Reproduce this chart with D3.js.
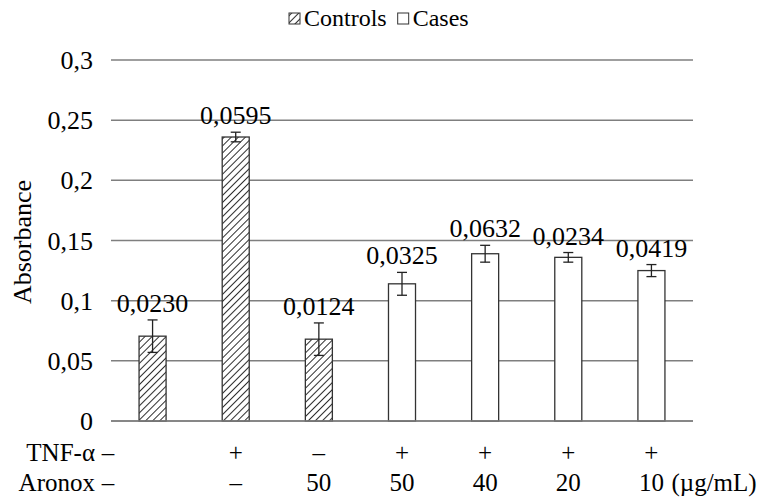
<html>
<head>
<meta charset="utf-8">
<script src="https://d3js.org/d3.v7.min.js"></script>
<style>
  body { margin: 0; background: #fff; }
</style>
</head>
<body>
<script>
  // data
  const groups = ["Controls", "Controls", "Controls", "Cases", "Cases", "Cases", "Cases"];
  const values = [0.0705, 0.236, 0.068, 0.114, 0.139, 0.136, 0.125];
  const errors = [0.0135, 0.004, 0.0135, 0.0095, 0.007, 0.004, 0.005];
  const labels = ["0,0230", "0,0595", "0,0124", "0,0325", "0,0632", "0,0234", "0,0419"];
  const tnf = ["\u2013", "+", "\u2013", "+", "+", "+", "+"];
  const aronox = ["\u2013", "\u2013", "50", "50", "40", "20", "10"];
  const yTicks = [0, 0.05, 0.1, 0.15, 0.2, 0.25, 0.3];

  const w = 764, h = 501;
  const plotLeft = 111, plotRight = 693, plotTop = 60, plotBottom = 421;
  const fs = 26;

  const svg = d3.select("body").append("svg")
      .attr("width", w)
      .attr("height", h);

  // every label uses the Times-like serif
  const txt = sel => sel.append("text").style("font-family", "'Liberation Serif'").attr("fill", "#000");

  const defs = svg.append("defs");
  const pat = defs.append("pattern")
      .attr("id", "hatch")
      .attr("patternUnits", "userSpaceOnUse")
      .attr("width", 5)
      .attr("height", 5)
      .attr("patternTransform", "rotate(45)");
  pat.append("rect").attr("width", 5).attr("height", 5).attr("fill", "#fff");
  pat.append("line")
      .attr("x1", 0).attr("y1", 0).attr("x2", 0).attr("y2", 5)
      .attr("stroke", "#222").attr("stroke-width", 1.9);

  const x = d3.scaleBand()
      .domain(d3.range(values.length))
      .range([plotLeft, plotRight])
      .paddingInner(0.675)
      .paddingOuter(0.3375);

  const y = d3.scaleLinear().domain([0, 0.3]).range([plotBottom, plotTop]);

  // gridlines
  svg.append("g").selectAll("line")
    .data(yTicks)
    .join("line")
      .attr("x1", plotLeft).attr("x2", plotRight)
      .attr("y1", d => y(d)).attr("y2", d => y(d))
      .attr("stroke", "#7f7f7f")
      .attr("stroke-width", 1.5);

  // y tick labels
  const yl = svg.append("g");
  yTicks.forEach(d => {
    txt(yl)
      .attr("x", 93)
      .attr("y", y(d))
      .attr("dy", "0.35em")
      .attr("text-anchor", "end")
      .attr("font-size", fs)
      .text(String(d).replace(".", ","));
  });

  // y axis title
  txt(svg)
      .attr("transform", "translate(31,242) rotate(-90)")
      .attr("text-anchor", "middle")
      .attr("font-size", fs)
      .text("Absorbance");

  // bars
  svg.append("g").selectAll("rect")
    .data(values)
    .join("rect")
      .attr("x", (d, i) => x(i))
      .attr("y", d => y(d))
      .attr("width", x.bandwidth())
      .attr("height", d => y(0) - y(d))
      .attr("fill", (d, i) => groups[i] == "Controls" ? "url(#hatch)" : "#fff")
      .attr("stroke", "#333")
      .attr("stroke-width", 1.3);

  // error bars
  const eb = svg.append("g").attr("stroke", "#222").attr("stroke-width", 1.3);
  values.forEach((v, i) => {
    const cx = x(i) + x.bandwidth() / 2;
    eb.append("line").attr("x1", cx).attr("x2", cx)
      .attr("y1", y(v + errors[i])).attr("y2", y(v - errors[i]));
    eb.append("line").attr("x1", cx - 5).attr("x2", cx + 5)
      .attr("y1", y(v + errors[i])).attr("y2", y(v + errors[i]));
    eb.append("line").attr("x1", cx - 5).attr("x2", cx + 5)
      .attr("y1", y(v - errors[i])).attr("y2", y(v - errors[i]));
  });

  // axis base line on top of bars
  svg.append("line")
      .attr("x1", plotLeft).attr("x2", plotRight)
      .attr("y1", y(0)).attr("y2", y(0))
      .attr("stroke", "#7f7f7f")
      .attr("stroke-width", 1.5);

  // value labels
  const vl = svg.append("g");
  values.forEach((v, i) => {
    txt(vl)
      .attr("x", x(i) + x.bandwidth() / 2)
      .attr("y", y(v + errors[i]) - 8)
      .attr("text-anchor", "middle")
      .attr("font-size", fs)
      .text(labels[i]);
  });

  // category rows under the axis
  const colX = i => i == 0 ? 108 : x(i) + x.bandwidth() / 2;
  const rows = [["TNF-\u03b1", tnf, 461], ["Aronox", aronox, 491]];
  rows.forEach(r => {
    const g = svg.append("g");
    txt(g)
        .attr("x", 95).attr("y", r[2])
        .attr("text-anchor", "end")
        .attr("font-size", fs - 1)
        .text(r[0]);
    r[1].forEach((d, i) => {
      txt(g)
        .attr("x", colX(i))
        .attr("y", r[2])
        .attr("text-anchor", "middle")
        .attr("font-size", fs - 1)
        .text(d);
    });
  });
  txt(svg)
      .attr("x", colX(6) + 20).attr("y", 491)
      .attr("font-size", fs - 1)
      .text("(\u00b5g/mL)");

  // legend
  const legend = [["Controls", "url(#hatch)"], ["Cases", "#fff"]];
  const lg = svg.append("g");
  let lx = 289;
  legend.forEach(l => {
    lg.append("rect")
        .attr("x", lx).attr("y", 13)
        .attr("width", 11).attr("height", 11)
        .attr("fill", l[1])
        .attr("stroke", "#333").attr("stroke-width", 1);
    const t = txt(lg)
        .attr("x", lx + 15).attr("y", 26)
        .attr("font-size", 24)
        .text(l[0]);
    lx += 15 + t.node().getComputedTextLength() + 11;
  });
</script>
</body>
</html>
